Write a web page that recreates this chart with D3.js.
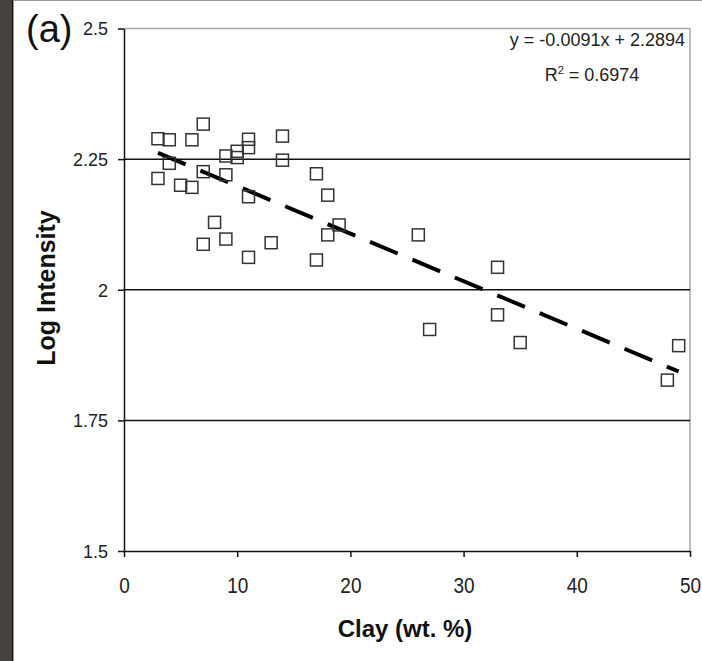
<!DOCTYPE html>
<html>
<head>
<meta charset="utf-8">
<script src="https://cdnjs.cloudflare.com/ajax/libs/d3/7.8.5/d3.min.js"></script>
<style>
  html, body { margin: 0; padding: 0; background: #fff; }
  svg { display: block; font-family: "Liberation Sans", Arial, sans-serif; }
</style>
</head>
<body>
<div id="chart"></div>
<script>
// data: clay content (wt. %) vs log intensity
const clay = [3, 3, 4, 4, 5, 6, 6, 7, 7, 7, 8, 9, 9, 9, 10, 10, 11, 11, 11, 11,
              13, 14, 14, 17, 17, 18, 18, 19, 26, 27, 33, 33, 35, 48, 49];
const logIntensity = [2.289, 2.213, 2.287, 2.242, 2.200, 2.287, 2.196, 2.317, 2.226, 2.087,
                      2.129, 2.256, 2.220, 2.097, 2.265, 2.253, 2.288, 2.272, 2.178, 2.062,
                      2.090, 2.294, 2.248, 2.222, 2.057, 2.181, 2.105, 2.124, 2.105, 1.924,
                      2.043, 1.952, 1.899, 1.827, 1.893];

// linear fit shown on the chart
const slope = -0.0091;
const intercept = 2.2894;
const fitRange = [3, 49];

const xTicks = [0, 10, 20, 30, 40, 50];
const yTicks = [1.5, 1.75, 2, 2.25, 2.5];
const yGrid = [1.75, 2, 2.25];

const W = 702, H = 661;
const plot = { left: 124, right: 690, top: 28.5, bottom: 551 };

const svg = d3.select("#chart").append("svg")
    .attr("width", W)
    .attr("height", H);

// background: dark strip on the left, white panel
svg.append("rect").attr("width", W).attr("height", H).attr("fill", "#fff");
svg.append("rect").attr("x", 0).attr("y", 0).attr("width", 12).attr("height", H).attr("fill", "#46423d");
svg.append("line").attr("x1", 12.7).attr("x2", 12.7).attr("y1", 0).attr("y2", H)
    .attr("stroke", "#111").attr("stroke-width", 1.4);
svg.append("line").attr("x1", 13).attr("x2", W).attr("y1", 0.5).attr("y2", 0.5)
    .attr("stroke", "#999").attr("stroke-width", 1);

const x = d3.scaleLinear().domain([0, 50]).range([plot.left, plot.right]);
const y = d3.scaleLinear().domain([1.5, 2.5]).range([plot.bottom, plot.top]);

// plot frame: grey top and right
svg.append("line")
    .attr("x1", plot.left).attr("x2", plot.right)
    .attr("y1", y(2.5)).attr("y2", y(2.5))
    .attr("stroke", "#a6a6a6").attr("stroke-width", 1.5);
svg.append("line")
    .attr("x1", plot.right).attr("x2", plot.right)
    .attr("y1", y(2.5)).attr("y2", plot.bottom)
    .attr("stroke", "#a6a6a6").attr("stroke-width", 1.5);

// horizontal gridlines
svg.selectAll(".grid")
    .data(yGrid)
    .enter()
    .append("line")
    .attr("class", "grid")
    .attr("x1", plot.left).attr("x2", plot.right)
    .attr("y1", d => y(d)).attr("y2", d => y(d))
    .attr("stroke", "#111").attr("stroke-width", 1.5);

// y axis
const yAxis = svg.append("g")
    .attr("transform", `translate(${plot.left},0)`)
    .call(d3.axisLeft(y).tickValues(yTicks).tickSize(6).tickSizeOuter(0).tickPadding(10)
        .tickFormat(d => d3.format("")(d)));
yAxis.select(".domain").attr("stroke", "#111").attr("stroke-width", 1.5);
yAxis.selectAll(".tick line").attr("stroke", "#111").attr("stroke-width", 1.5);
yAxis.selectAll(".tick text")
    .attr("fill", "#222")
    .attr("dy", "0.36em")
    .style("font-size", "18px")
    .style("font-family", "'Liberation Sans', Arial, sans-serif");

// x axis
const xAxis = svg.append("g")
    .attr("transform", `translate(0,${plot.bottom})`)
    .call(d3.axisBottom(x).tickValues(xTicks).tickSize(6).tickSizeOuter(0).tickFormat(d => d));
xAxis.select(".domain").attr("stroke", "#111").attr("stroke-width", 1.5);
xAxis.selectAll(".tick line").attr("stroke", "#111").attr("stroke-width", 1.5);
xAxis.selectAll(".tick text")
    .attr("fill", "#222")
    .attr("y", 0).attr("dy", null)
    .attr("transform", "translate(0,42) scale(1,1.12)")
    .style("font-size", "19px")
    .style("font-family", "'Liberation Sans', Arial, sans-serif");

// trend line (dashed)
const line = d3.line().x(d => x(d)).y(d => y(slope * d + intercept));
svg.append("path")
    .datum(fitRange)
    .attr("d", line)
    .attr("fill", "none")
    .attr("stroke", "#000")
    .attr("stroke-width", 4)
    .attr("stroke-dasharray", "30,16");

// data points: hollow squares
const s = 12;
svg.selectAll(".pt")
    .data(clay.map((c, i) => [c, logIntensity[i]]))
    .enter()
    .append("rect")
    .attr("class", "pt")
    .attr("x", d => x(d[0]) - s / 2)
    .attr("y", d => y(d[1]) - s / 2)
    .attr("width", s)
    .attr("height", s)
    .attr("fill", "none")
    .attr("stroke", "#333")
    .attr("stroke-width", 1.5);

// equation text
svg.append("text")
    .attr("x", 685).attr("y", 46)
    .attr("text-anchor", "end")
    .attr("fill", "#222")
    .style("font-size", "18px")
    .text(`y = ${slope}x + ${intercept}`);
const r2 = svg.append("text")
    .attr("x", 592).attr("y", 81)
    .attr("text-anchor", "middle")
    .attr("fill", "#222")
    .style("font-size", "18px");
r2.append("tspan").text("R");
r2.append("tspan").attr("dy", -7).style("font-size", "11px").text("2");
r2.append("tspan").attr("dy", 7).text(" = 0.6974");

// panel label
svg.append("text")
    .attr("x", 26).attr("y", 42)
    .attr("fill", "#111")
    .style("font-size", "38px")
    .text("(a)");

// axis titles
svg.append("text")
    .attr("x", 405).attr("y", 637)
    .attr("text-anchor", "middle")
    .attr("fill", "#111")
    .style("font-size", "24px")
    .style("font-weight", "bold")
    .text("Clay (wt. %)");

svg.append("text")
    .attr("transform", "translate(55,288) rotate(-90)")
    .attr("text-anchor", "middle")
    .attr("fill", "#111")
    .style("font-size", "25px")
    .style("font-weight", "bold")
    .text("Log Intensity");
</script>
</body>
</html>
